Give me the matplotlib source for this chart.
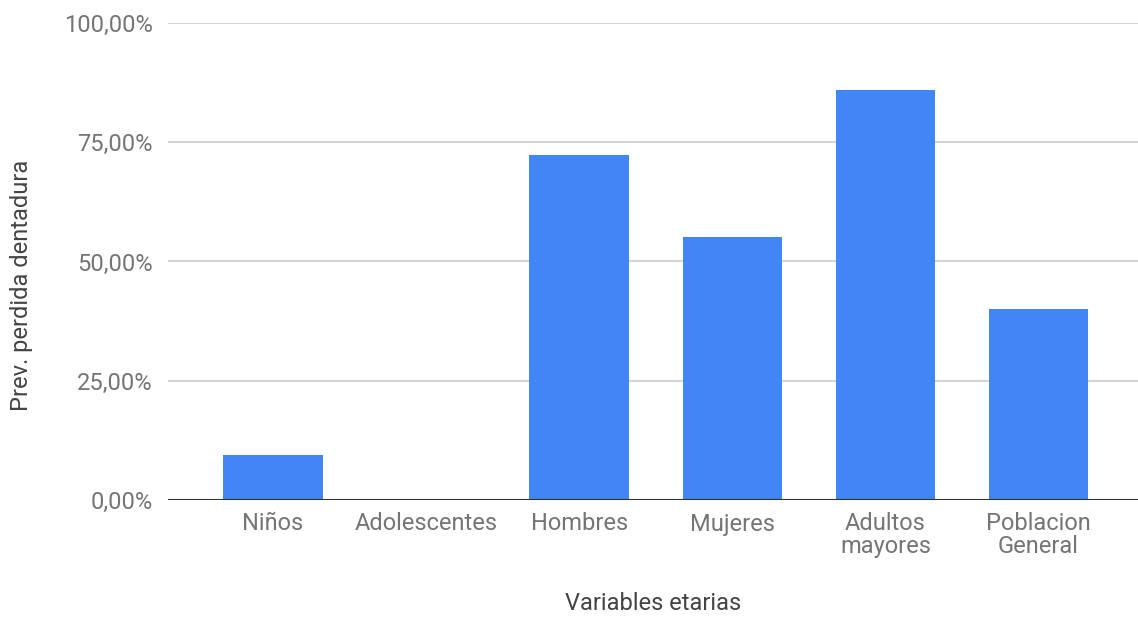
import matplotlib.pyplot as plt
from matplotlib.ticker import FuncFormatter

categorias = ["Niños", "Adolescentes", "Hombres", "Mujeres", "Adultos\nmayores", "Poblacion\nGeneral"]
prevalencia = [9.5, 0.0, 72.3, 55.2, 85.9, 40.0]
y_ticks = [0, 25, 50, 75, 100]

plt.rcParams['font.family'] = ['Roboto', 'DejaVu Sans']

W, H = 1138, 620
fig = plt.figure(figsize=(W / 100, H / 100), dpi=100)
ax = fig.add_axes([168 / W, 1 - 500 / H, 1 - 168 / W, (500 - 23) / H])

x = range(len(categorias))
ax.bar(x, prevalencia, width=0.65, color="#4285F4", zorder=3)

ax.set_ylim(0, 100)
ax.set_xlim(-0.686, 5.65)
ax.set_yticks(y_ticks)
ax.yaxis.set_major_formatter(FuncFormatter(lambda v, p: f"{v:.2f}%".replace(".", ",")))
ax.set_xticks(list(x))
ax.set_xticklabels(categorias, linespacing=0.95)

ax.grid(axis="y", color="#cccccc", linewidth=1.2, zorder=0)
ax.axhline(0, color="#333333", linewidth=1.5, zorder=4)
for s in ax.spines.values():
    s.set_visible(False)

ax.tick_params(axis="both", length=0, labelsize=17, labelcolor="#757575")
ax.tick_params(axis="y", pad=11)
ax.tick_params(axis="x", pad=9)

# axis titles placed in figure pixels
fig.text(22 / W, 1 - 285 / H, "Prev. perdida dentadura", fontsize=17, color="#444444",
         rotation=90, ha="center", va="center")
fig.text((168 + W) / 2 / W, 1 - 604 / H, "Variables etarias", fontsize=17, color="#444444",
         ha="center", va="center")

fig.savefig("out.png", dpi=100)
